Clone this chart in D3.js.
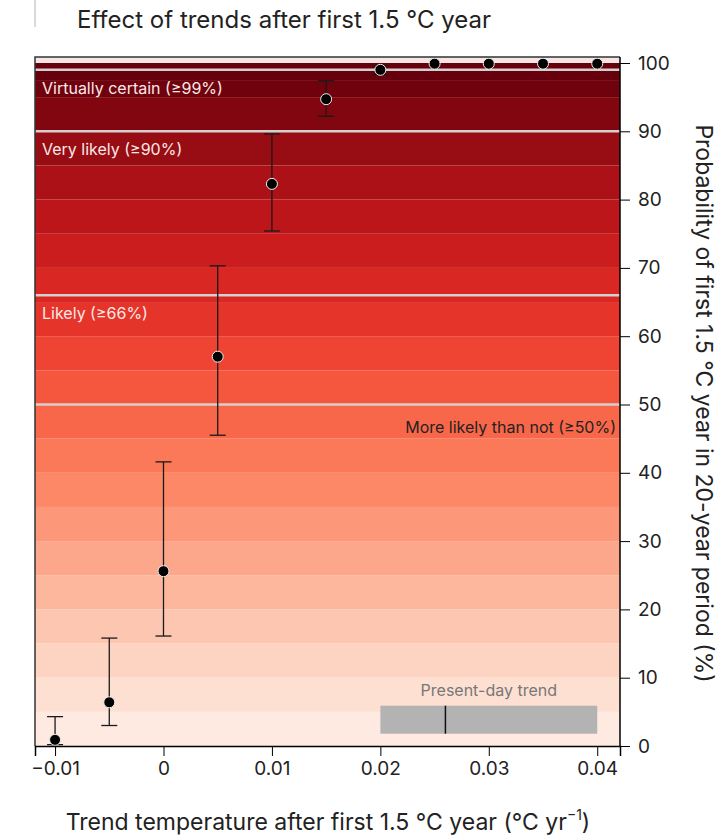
<!DOCTYPE html>
<html><head><meta charset="utf-8">
<script src="https://cdn.jsdelivr.net/npm/d3@7"></script>
<style>body{margin:0;background:#fff}</style>
</head><body>
<script>
const trends = [-0.01, -0.005, 0, 0.005, 0.01, 0.015, 0.02, 0.025, 0.03, 0.035, 0.04];
const probs  = [0.9, 6.4, 25.6, 57.0, 82.3, 94.7, 99.0, 99.9, 99.9, 99.9, 99.9];
const lows   = [0.2, 3.0, 16.1, 45.5, 75.4, 92.2, 98.3, null, null, null, null];
const highs  = [4.3, 15.8, 41.6, 70.3, 89.6, 97.4, 99.6, null, null, null, null];
const thresholds = [99, 90, 66, 50];
const thresholdLabels = ["Virtually certain (≥99%)", "Very likely (≥90%)", "Likely (≥66%)", "More likely than not (≥50%)"];
const presentDay = {lo: 0.02, mid: 0.026, hi: 0.04};
const xTicks = [-0.01, 0, 0.01, 0.02, 0.03, 0.04];
const yTicks = [0, 10, 20, 30, 40, 50, 60, 70, 80, 90, 100];

const W = 717, H = 836;
const m = {l: 35, r: 97, t: 57, b: 90};
const svg = d3.select("body").append("svg").attr("width", W).attr("height", H)
  .style("font-family", "Inter, 'Noto Sans', sans-serif");

const x = d3.scaleLinear().domain([-0.01185, 0.0421]).range([m.l, W - m.r]);
const y = d3.scaleLinear().domain([0, 100]).range([746, 63]);

// background bands
const bands = d3.range(0, 95, 5).map(v => [v, v + 5]).concat([[95, 97.5], [97.5, 99], [99, 100]]);
svg.append("rect").attr("x", m.l).attr("y", m.t).attr("width", x.range()[1] - m.l)
  .attr("height", y(100) - m.t).attr("fill", "#f7e4e4");
svg.selectAll("rect.band").data(bands).join("rect").attr("class", "band")
  .attr("x", m.l).attr("width", x.range()[1] - m.l)
  .attr("y", d => y(d[1])).attr("height", d => y(d[0]) - y(d[1]))
  .attr("fill", d => d3.interpolateReds(0.04 + 0.96 * Math.min(1, (d[0] + d[1]) / 2 / 100 * 1.02)));

// threshold lines and labels
svg.selectAll("line.thr").data(thresholds).join("line")
  .attr("x1", m.l).attr("x2", x.range()[1]).attr("y1", d => y(d)).attr("y2", d => y(d))
  .attr("stroke", "#d6cfcf").attr("stroke-width", 2.5);
svg.selectAll("text.thr").data(thresholds).join("text")
  .attr("x", (d, i) => i == 3 ? x.range()[1] - 4 : m.l + 7)
  .attr("y", (d, i) => i == 3 ? y(d) + 28 : y(d) + 24)
  .attr("text-anchor", (d, i) => i == 3 ? "end" : "start")
  .attr("fill", (d, i) => i == 3 ? "#222" : "#fbe9e6").attr("font-size", 16)
  .text((d, i) => thresholdLabels[i]);

// present-day trend
svg.append("rect").attr("x", x(presentDay.lo)).attr("width", x(presentDay.hi) - x(presentDay.lo))
  .attr("y", y(5.9)).attr("height", y(1.8) - y(5.9)).attr("fill", "#b3b3b3");
svg.append("line").attr("x1", x(presentDay.mid)).attr("x2", x(presentDay.mid))
  .attr("y1", y(5.9)).attr("y2", y(1.8)).attr("stroke", "#111").attr("stroke-width", 1.5);
svg.append("text").attr("x", (x(presentDay.lo) + x(presentDay.hi)) / 2).attr("y", y(5.9) - 10)
  .attr("text-anchor", "middle").attr("font-size", 16).attr("fill", "#777").text("Present-day trend");

// error bars
const pts = trends.map((t, i) => ({t, p: probs[i], lo: lows[i], hi: highs[i]}));
const eb = svg.selectAll("g.eb").data(pts.filter(d => d.lo != null)).join("g")
  .attr("stroke", "#1a1a1a").attr("stroke-width", 1.3);
eb.append("line").attr("x1", d => x(d.t)).attr("x2", d => x(d.t)).attr("y1", d => y(d.lo)).attr("y2", d => y(d.hi));
eb.append("line").attr("x1", d => x(d.t) - 8).attr("x2", d => x(d.t) + 8).attr("y1", d => y(d.lo)).attr("y2", d => y(d.lo));
eb.append("line").attr("x1", d => x(d.t) - 8).attr("x2", d => x(d.t) + 8).attr("y1", d => y(d.hi)).attr("y2", d => y(d.hi));
svg.selectAll("circle.pt").data(pts).join("circle")
  .attr("cx", d => x(d.t)).attr("cy", d => y(d.p)).attr("r", 5.5)
  .attr("fill", "#000").attr("stroke", "#eee").attr("stroke-width", 1);

// frame
svg.append("path").attr("d", `M${m.l},746V${m.t}H${x.range()[1]}`).attr("fill", "none").attr("stroke", "#333").attr("stroke-width", 1.5);

// axes
const xa = svg.append("g").attr("transform", "translate(0,746)")
  .call(d3.axisBottom(x).tickValues(xTicks).tickSize(10).tickPadding(6));
xa.select(".domain").attr("stroke", "#000").attr("stroke-width", 1.5);
xa.selectAll("text").attr("font-size", 19).attr("fill", "#222")
  .text(d => d == 0 ? "0" : String(+d.toFixed(3)).replace("-", "−"));

const ya = svg.append("g").attr("transform", `translate(${x.range()[1]},0)`)
  .call(d3.axisRight(y).tickValues(yTicks).tickSize(10).tickPadding(8));
ya.select(".domain").attr("d", `M0,${m.t}V746`).attr("stroke", "#000").attr("stroke-width", 1.5);
ya.selectAll("text").attr("font-size", 19).attr("fill", "#222");
svg.selectAll(".tick text").attr("font-family", "Inter, sans-serif");

// titles
svg.append("line").attr("x1", 35).attr("x2", 35).attr("y1", 0).attr("y2", 27).attr("stroke", "#ccc").attr("stroke-width", 1.5);
svg.append("text").attr("x", 77).attr("y", 28).attr("font-size", 24).attr("fill", "#222")
  .text("Effect of trends after first 1.5 °C year");
const xt = svg.append("text").attr("x", 328).attr("y", 830).attr("text-anchor", "middle").attr("font-size", 23).attr("fill", "#222");
xt.append("tspan").text("Trend temperature after first 1.5 °C year (°C yr");
xt.append("tspan").attr("font-size", 14).attr("dy", -10).text("−1");
xt.append("tspan").attr("dy", 10).text(")");
svg.append("text").attr("transform", `translate(696,${y(50) - 1}) rotate(90)`).attr("text-anchor", "middle")
  .attr("font-size", 23).attr("fill", "#222").text("Probability of first 1.5 °C year in 20-year period (%)");
</script>
</body></html>
